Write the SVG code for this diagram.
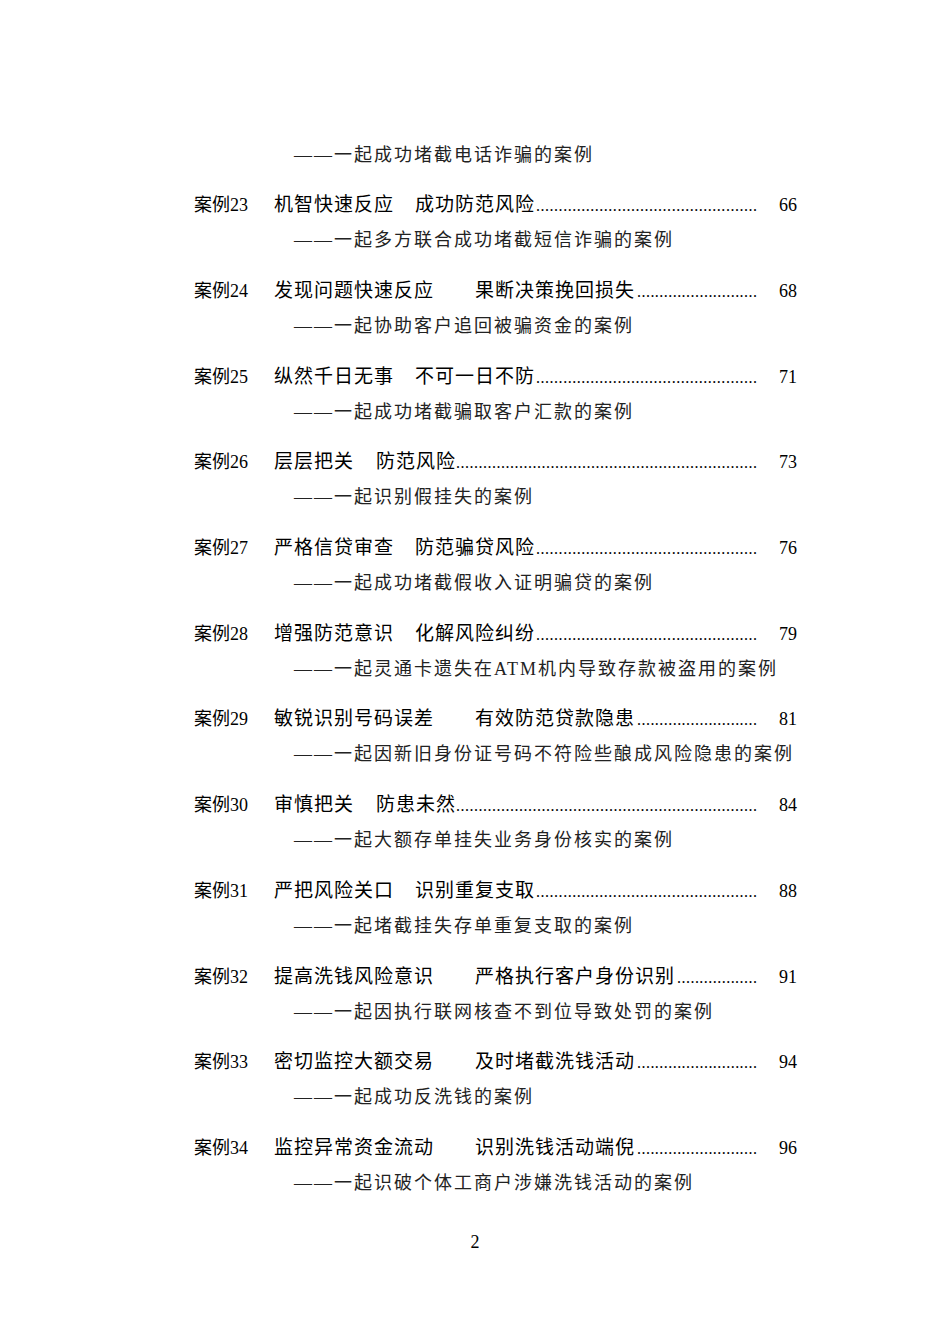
<svg xmlns="http://www.w3.org/2000/svg" width="950" height="1342" viewBox="0 0 950 1342">
<style>
.t{font-family:"Noto Sans CJK SC","Noto Sans",sans-serif;font-size:19px;letter-spacing:1px;fill:#000}
.c{font-family:"Noto Sans CJK SC",sans-serif;font-size:18px;fill:#000}
.n{font-family:"Liberation Serif",serif;font-size:18px;fill:#000}
.s{font-family:"Liberation Serif","Noto Sans CJK SC",serif;font-size:18px;letter-spacing:2px;fill:#222}
.d{font-family:"Liberation Serif",serif;font-size:16px;fill:#000}
</style>
<rect width="950" height="1342" fill="#fff"/>
<text class="s" x="294" y="161">——一起成功堵截电话诈骗的案例</text>
<g id="e23"><text class="c" x="194" y="211">案例<tspan class="n">23</tspan></text><text class="t" x="274" y="211">机智快速反应</text><text class="t" x="415" y="211">成功防范风险</text><text class="d" x="536" y="211" textLength="221" lengthAdjust="spacing">.................................................</text><text class="n" x="779" y="211">66</text><text class="s" x="294" y="246">——一起多方联合成功堵截短信诈骗的案例</text></g>
<g id="e24"><text class="c" x="194" y="297">案例<tspan class="n">24</tspan></text><text class="t" x="274" y="297">发现问题快速反应</text><text class="t" x="475" y="297">果断决策挽回损失</text><text class="d" x="637" y="297" textLength="120" lengthAdjust="spacing">...........................</text><text class="n" x="779" y="297">68</text><text class="s" x="294" y="332">——一起协助客户追回被骗资金的案例</text></g>
<g id="e25"><text class="c" x="194" y="383">案例<tspan class="n">25</tspan></text><text class="t" x="274" y="383">纵然千日无事</text><text class="t" x="415" y="383">不可一日不防</text><text class="d" x="536" y="383" textLength="221" lengthAdjust="spacing">.................................................</text><text class="n" x="779" y="383">71</text><text class="s" x="294" y="418">——一起成功堵截骗取客户汇款的案例</text></g>
<g id="e26"><text class="c" x="194" y="468">案例<tspan class="n">26</tspan></text><text class="t" x="274" y="468">层层把关</text><text class="t" x="376" y="468">防范风险</text><text class="d" x="456" y="468" textLength="301" lengthAdjust="spacing">...................................................................</text><text class="n" x="779" y="468">73</text><text class="s" x="294" y="503">——一起识别假挂失的案例</text></g>
<g id="e27"><text class="c" x="194" y="554">案例<tspan class="n">27</tspan></text><text class="t" x="274" y="554">严格信贷审查</text><text class="t" x="415" y="554">防范骗贷风险</text><text class="d" x="536" y="554" textLength="221" lengthAdjust="spacing">.................................................</text><text class="n" x="779" y="554">76</text><text class="s" x="294" y="589">——一起成功堵截假收入证明骗贷的案例</text></g>
<g id="e28"><text class="c" x="194" y="640">案例<tspan class="n">28</tspan></text><text class="t" x="274" y="640">增强防范意识</text><text class="t" x="415" y="640">化解风险纠纷</text><text class="d" x="536" y="640" textLength="221" lengthAdjust="spacing">.................................................</text><text class="n" x="779" y="640">79</text><text class="s" x="294" y="675">——一起灵通卡遗失在ATM机内导致存款被盗用的案例</text></g>
<g id="e29"><text class="c" x="194" y="725">案例<tspan class="n">29</tspan></text><text class="t" x="274" y="725">敏锐识别号码误差</text><text class="t" x="475" y="725">有效防范贷款隐患</text><text class="d" x="637" y="725" textLength="120" lengthAdjust="spacing">...........................</text><text class="n" x="779" y="725">81</text><text class="s" x="294" y="760">——一起因新旧身份证号码不符险些酿成风险隐患的案例</text></g>
<g id="e30"><text class="c" x="194" y="811">案例<tspan class="n">30</tspan></text><text class="t" x="274" y="811">审慎把关</text><text class="t" x="376" y="811">防患未然</text><text class="d" x="456" y="811" textLength="301" lengthAdjust="spacing">...................................................................</text><text class="n" x="779" y="811">84</text><text class="s" x="294" y="846">——一起大额存单挂失业务身份核实的案例</text></g>
<g id="e31"><text class="c" x="194" y="897">案例<tspan class="n">31</tspan></text><text class="t" x="274" y="897">严把风险关口</text><text class="t" x="415" y="897">识别重复支取</text><text class="d" x="536" y="897" textLength="221" lengthAdjust="spacing">.................................................</text><text class="n" x="779" y="897">88</text><text class="s" x="294" y="932">——一起堵截挂失存单重复支取的案例</text></g>
<g id="e32"><text class="c" x="194" y="983">案例<tspan class="n">32</tspan></text><text class="t" x="274" y="983">提高洗钱风险意识</text><text class="t" x="475" y="983">严格执行客户身份识别</text><text class="d" x="677" y="983" textLength="80" lengthAdjust="spacing">..................</text><text class="n" x="779" y="983">91</text><text class="s" x="294" y="1018">——一起因执行联网核查不到位导致处罚的案例</text></g>
<g id="e33"><text class="c" x="194" y="1068">案例<tspan class="n">33</tspan></text><text class="t" x="274" y="1068">密切监控大额交易</text><text class="t" x="475" y="1068">及时堵截洗钱活动</text><text class="d" x="637" y="1068" textLength="120" lengthAdjust="spacing">...........................</text><text class="n" x="779" y="1068">94</text><text class="s" x="294" y="1103">——一起成功反洗钱的案例</text></g>
<g id="e34"><text class="c" x="194" y="1154">案例<tspan class="n">34</tspan></text><text class="t" x="274" y="1154">监控异常资金流动</text><text class="t" x="475" y="1154">识别洗钱活动端倪</text><text class="d" x="637" y="1154" textLength="120" lengthAdjust="spacing">...........................</text><text class="n" x="779" y="1154">96</text><text class="s" x="294" y="1189">——一起识破个体工商户涉嫌洗钱活动的案例</text></g>
<text class="n" x="475" y="1248" text-anchor="middle">2</text>
</svg>
